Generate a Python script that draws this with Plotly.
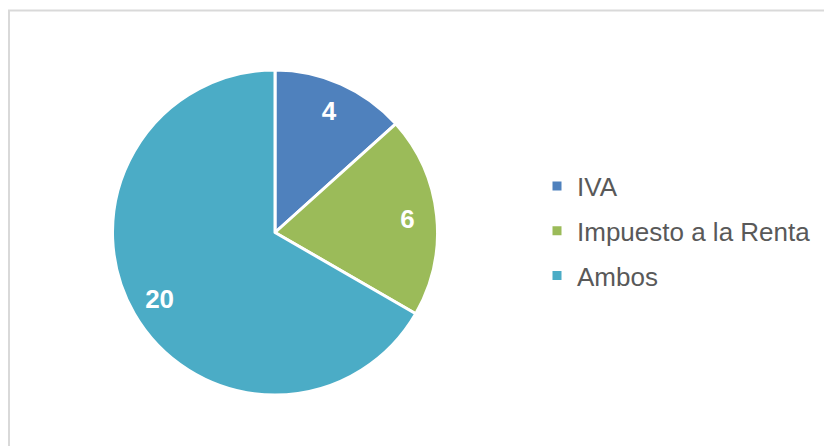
import plotly.graph_objects as go

labels = ["IVA", "Impuesto a la Renta", "Ambos"]
values = [4, 6, 20]
colors = ["#4F81BD", "#9BBB59", "#4BACC6"]

# page body adds an 8px margin, so the figure is sized to fit the window
W, H = 824, 438
pie_dom = dict(x=[104 / W, 430 / W], y=[1 - 387 / H, 1 - 62 / H])

fig = go.Figure()

# slices
fig.add_trace(go.Pie(
    labels=labels,
    values=values,
    sort=False,
    direction="clockwise",
    rotation=0,
    marker=dict(colors=colors, line=dict(color="white", width=3)),
    textinfo="none",
    domain=pie_dom,
    showlegend=False,
    hoverinfo="label+value+percent",
))

# value labels sit out near the rim, like Excel's data labels
fig.add_trace(go.Pie(
    labels=labels,
    values=values,
    sort=False,
    direction="clockwise",
    rotation=0,
    hole=0.64,
    marker=dict(colors=["rgba(0,0,0,0)"] * 3, line=dict(width=0)),
    textinfo="value",
    textposition="inside",
    insidetextorientation="horizontal",
    textfont=dict(family="Liberation Sans, Arial", size=26, color="white", weight="bold"),
    domain=pie_dom,
    showlegend=False,
    hoverinfo="skip",
))

# legend entries
for lab, col in zip(labels, colors):
    fig.add_trace(go.Scatter(
        x=[None], y=[None],
        mode="markers",
        name=lab,
        legendgroup=lab,
        marker=dict(symbol="square", size=9, color=col),
    ))

# chart border
fig.add_shape(
    type="rect", xref="paper", yref="paper",
    x0=1 / W, x1=1.05, y0=-0.05, y1=1 - 2.5 / H,
    line=dict(color="#D9D9D9", width=2),
)

fig.update_layout(
    width=W,
    height=H,
    margin=dict(l=0, r=0, t=0, b=0),
    paper_bgcolor="white",
    plot_bgcolor="white",
    xaxis=dict(visible=False),
    yaxis=dict(visible=False),
    legend=dict(
        x=529 / W, y=1 - 223 / H,
        xanchor="left", yanchor="middle",
        font=dict(family="Liberation Sans, Arial", size=26, color="#595959"),
        tracegroupgap=8,
        itemwidth=30,
    ),
)

fig.write_html("out.html")
